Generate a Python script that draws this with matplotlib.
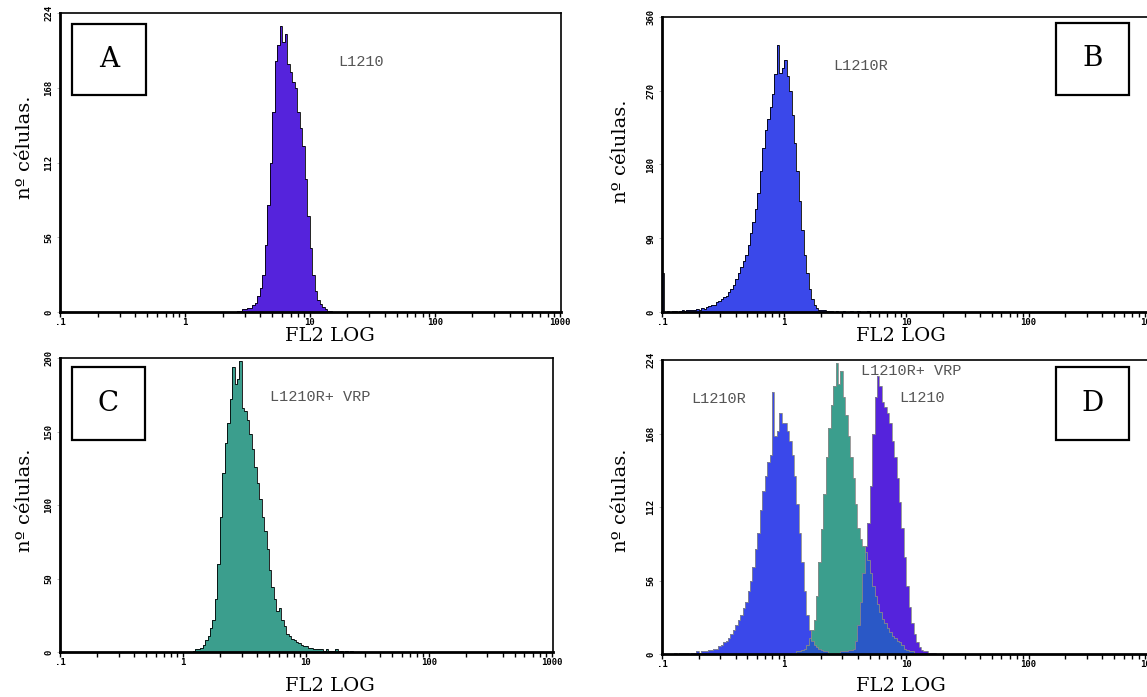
import numpy as np
import matplotlib.pyplot as plt
from matplotlib.patches import Rectangle
from matplotlib.ticker import LogLocator, NullFormatter

# histogram counts, one value per 0.02 decade of FL2 (log10 of start given)
step = 0.02

# A - L1210
a_start = 0.42
a_counts = [1, 1, 2, 2, 3, 3, 5, 7, 12, 18, 28, 50, 80, 112, 150, 188, 200, 214,
            202, 208, 186, 180, 172, 168, 150, 138, 124, 100, 72, 48, 28, 16, 9,
            6, 4, 2, 1, 1, 0]

# B - L1210R
b_start = -1.0
b_counts = [48, 0, 1, 0, 1, 1, 0, 1, 2, 1, 2, 2, 3, 2, 4, 3, 5, 4, 6, 7, 9, 8,
            12, 14, 16, 18, 20, 24, 28, 33, 40, 48, 55, 62, 70, 82, 96, 110, 126,
            145, 172, 200, 222, 236, 250, 266, 290, 326, 292, 298, 308, 288, 270,
            240, 206, 172, 135, 100, 70, 48, 28, 16, 8, 5, 3, 2, 2, 1, 1, 1, 0,
            1, 0, 0, 1, 0, 0, 1, 0, 0, 1, 0, 0, 0, 1, 0]

# C - L1210R + VRP
c_start = 0.08
c_counts = [1, 2, 2, 3, 5, 8, 11, 16, 22, 36, 60, 92, 122, 142, 156, 172, 194,
            182, 186, 198, 166, 164, 158, 148, 138, 126, 115, 104, 92, 82, 70, 56,
            44, 36, 28, 30, 22, 18, 12, 11, 9, 8, 7, 6, 5, 4, 4, 3, 3, 2, 2, 2, 2,
            1, 2, 1, 1, 1, 2, 1, 1, 0, 1, 0, 1, 0]

# D - overlay of the three
d_blue_start = -0.90
d_blue = [1, 0, 1, 1, 1, 1, 0, 1, 1, 2, 1, 2, 2, 2, 3, 3, 4, 4, 6, 7, 9, 10, 12,
          15, 18, 22, 26, 30, 35, 40, 48, 56, 66, 80, 92, 110, 124, 136, 146, 152,
          200, 166, 170, 184, 176, 176, 170, 162, 152, 136, 114, 92, 70, 48, 30,
          18, 10, 7, 5, 4, 3, 2, 2, 1, 1, 1, 0]
d_teal_start = 0.06
d_teal = [1, 1, 2, 2, 3, 4, 7, 12, 18, 26, 44, 70, 95, 122, 150, 172, 190, 204,
          222, 206, 216, 196, 182, 166, 150, 134, 114, 96, 88, 82, 78, 72, 62, 52,
          44, 38, 32, 27, 24, 20, 17, 14, 12, 10, 9, 7, 4, 3, 2, 2, 1, 1, 0]
d_purple_start = 0.40
d_purple = [1, 1, 1, 2, 2, 2, 3, 3, 4, 10, 22, 40, 62, 82, 100, 128, 168, 196,
            212, 204, 192, 188, 184, 176, 162, 150, 134, 116, 96, 74, 52, 36, 24,
            15, 9, 5, 3, 2, 2, 1, 1, 1, 0]

xtick_vals = [0.1, 1, 10, 100, 1000]
xtick_labels = ['.1', '1', '10', '100', '1000']
a_yticks = [0, 56, 112, 168, 224]
b_yticks = [0, 90, 180, 270, 360]
c_yticks = [0, 50, 100, 150, 200]
d_yticks = [0, 56, 112, 168, 224]

purple = '#5523dc'
blue = '#3a48ea'
teal = '#3b9e8d'
dark = '#2a58c6'

W, H = 1147, 697
fig = plt.figure(figsize=(W / 100, H / 100), dpi=100)


def px_axes(l, t, r, b):
    return fig.add_axes([l / W, 1 - b / H, (r - l) / W, (b - t) / H])


def edges_of(start, counts):
    return 10 ** (start + step * np.arange(len(counts) + 1))


def draw_hist(ax, start, counts, color, edge):
    counts = np.array(counts, float)
    e = edges_of(start, counts)
    ax.stairs(counts, e, fill=True, color=color, lw=0)
    ax.stairs(counts, e, color=edge, lw=0.6)


def style(ax, yticks):
    ax.set_xscale('log')
    ax.set_xlim(0.1, 1024)
    ax.set_ylim(0, yticks[-1])
    ax.set_xticks(xtick_vals)
    ax.set_xticklabels(xtick_labels)
    ax.xaxis.set_minor_locator(LogLocator(base=10, subs=range(2, 10)))
    ax.xaxis.set_minor_formatter(NullFormatter())
    ax.set_yticks(yticks)
    ax.set_yticklabels([str(v) for v in yticks])
    ax.tick_params(axis='x', which='both', direction='out', length=3.5, width=1,
                   pad=0.5, labelsize=6.5)
    ax.tick_params(axis='y', length=2, width=0.5, color='#999999', pad=3,
                   labelsize=6.5)
    for lab in ax.get_xticklabels() + ax.get_yticklabels():
        lab.set_family('DejaVu Sans Mono')
        lab.set_weight('bold')
    for lab in ax.get_yticklabels():
        lab.set_rotation(90)
        lab.set_va('center')
    ax.spines['left'].set_linewidth(2)
    ax.spines['bottom'].set_linewidth(2)
    ax.spines['top'].set_linewidth(1.2)
    ax.spines['right'].set_linewidth(1.2)


def letter_box(l, t, r, b, letter):
    fig.add_artist(Rectangle((l / W, 1 - b / H), (r - l) / W, (b - t) / H,
                             transform=fig.transFigure, fill=True, fc='white',
                             ec='black', lw=1.6, zorder=5))
    fig.text((l + r) / 2 / W, 1 - (t + b) / 2 / H, letter, ha='center',
             va='center', fontsize=20, family='DejaVu Serif', zorder=6)


def tag(x, y, s):
    fig.text(x / W, 1 - y / H, s, ha='left', va='center', fontsize=11,
             family='Liberation Mono', color='#555555')


def axis_labels(xl, yl):
    fig.text(xl[0] / W, 1 - xl[1] / H, 'FL2 LOG', ha='center', va='center',
             fontsize=14, family='DejaVu Serif')
    fig.text(yl[0] / W, 1 - yl[1] / H, 'nº células.', ha='center', va='center',
             rotation=90, fontsize=14, family='DejaVu Serif')


# A
axA = px_axes(60, 13, 561, 312)
draw_hist(axA, a_start, a_counts, purple, 'black')
style(axA, a_yticks)
letter_box(72, 24, 146, 95, 'A')
tag(338, 62, 'L1210')
axis_labels((330, 336), (25, 147))

# B
axB = px_axes(662, 17, 1152, 312)
draw_hist(axB, b_start, b_counts, blue, 'black')
style(axB, b_yticks)
letter_box(1056, 23, 1129, 95, 'B')
tag(833, 66, 'L1210R')
axis_labels((901, 336), (621, 151))

# C
axC = px_axes(60, 358, 553, 652)
draw_hist(axC, c_start, c_counts, teal, 'black')
style(axC, c_yticks)
letter_box(72, 367, 145, 440, 'C')
tag(270, 397, 'L1210R+ VRP')
axis_labels((330, 686), (25, 500))

# D - common grid so overlaps can be coloured
g_start = -1.0
n_grid = 130
g_edges = 10 ** (g_start + step * np.arange(n_grid + 1))


def on_grid(start, counts):
    full = np.zeros(n_grid)
    i0 = int(round((start - g_start) / step))
    full[i0:i0 + len(counts)] = counts
    return full


gb = on_grid(d_blue_start, d_blue)
gt = on_grid(d_teal_start, d_teal)
gp = on_grid(d_purple_start, d_purple)

axD = px_axes(662, 360, 1152, 654)
for s, c in [(gb, blue), (gt, teal), (gp, purple)]:
    axD.stairs(s, g_edges, fill=True, color=c, lw=0)
axD.stairs(np.minimum(gb, gt), g_edges, fill=True, color=dark, lw=0)
axD.stairs(np.minimum(gt, gp), g_edges, fill=True, color=dark, lw=0)
for s in [gb, gt, gp]:
    axD.stairs(s, g_edges, color='#8a8a8a', lw=0.6)
style(axD, d_yticks)
letter_box(1056, 367, 1129, 440, 'D')
tag(691, 399, 'L1210R')
tag(861, 371, 'L1210R+ VRP')
tag(899, 398, 'L1210')
axis_labels((901, 686), (621, 500))

fig.savefig('out.png', dpi=100)
